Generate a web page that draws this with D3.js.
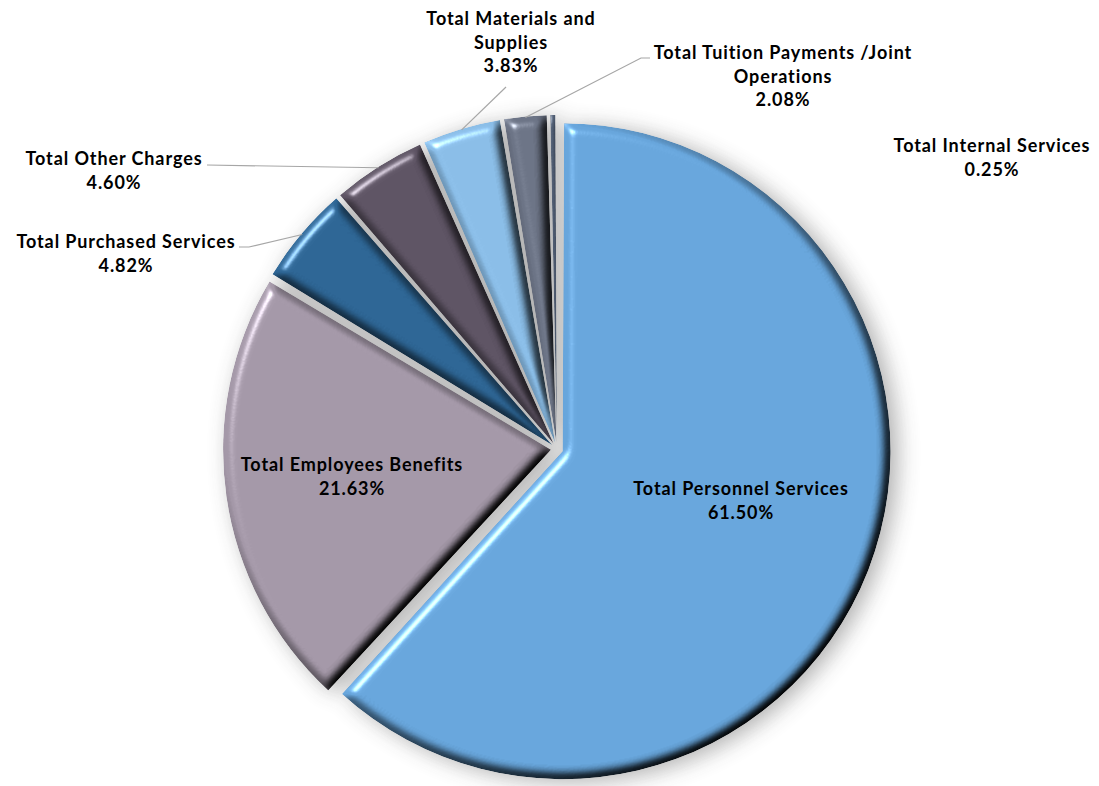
<!DOCTYPE html>
<html>
<head>
<meta charset="utf-8">
<script src="https://cdn.jsdelivr.net/npm/d3@7"></script>
<style>
  html, body { margin: 0; padding: 0; background: #ffffff; }
  svg { display: block; }
  text { font-family: Lato, "Open Sans", sans-serif; font-weight: 700; fill: #000; }
</style>
</head>
<body>
<svg id="chart" width="1099" height="786"></svg>
<script>
// ---- data -------------------------------------------------------------
const categories = [
  "Total Personnel Services",
  "Total Employees Benefits",
  "Total Purchased Services",
  "Total Other Charges",
  "Total Materials and Supplies",
  "Total Tuition Payments /Joint Operations",
  "Total Internal Services"
];
const shares = [61.50, 21.63, 4.82, 4.60, 3.83, 2.08, 0.25];
const sliceColors = ["#67a5db", "#a397a7", "#2d6594", "#5d5363", "#89bce6", "#6b7385", "#4b586d"];

// how each category name wraps in its label
const labelRows = [
  ["Total Personnel Services"],
  ["Total Employees Benefits"],
  ["Total Purchased Services"],
  ["Total Other Charges"],
  ["Total Materials and", "Supplies"],
  ["Total Tuition Payments /Joint", "Operations"],
  ["Total Internal Services"]
];

// ---- layout -----------------------------------------------------------
const W = 1099, H = 786;
const cx = 557, cy = 449, R = 328, explode = 6, gap = 3;
const lineH = 23.5;
// label block: centre x, first baseline, and leader anchor points next to the text
const labelPlace = [
  { x: 741, y: 495 },
  { x: 352, y: 471 },
  { x: 126, y: 248, leader: [[239, 247], [249, 247]] },
  { x: 114, y: 165, leader: [[207, 165]] },
  { x: 511, y: 25,  leader: [[506, 87]] },
  { x: 783, y: 59,  leader: [[650, 58], [641, 58]] },
  { x: 992, y: 152 }
];

const svg = d3.select("#chart");
const defs = svg.append("defs");

// soft drop shadow under the whole pie
const shadow = defs.append("filter").attr("id", "pieShadow")
  .attr("filterUnits", "userSpaceOnUse")
  .attr("x", -W).attr("y", -H).attr("width", 2 * W).attr("height", 2 * H);
shadow.append("feGaussianBlur").attr("stdDeviation", 11);

// rounded bevel on every slice: diffuse shading + specular highlight
const bevel = defs.append("filter").attr("id", "bevel")
  .attr("filterUnits", "userSpaceOnUse")
  .attr("x", -R - 60).attr("y", -R - 60).attr("width", 2 * R + 120).attr("height", 2 * R + 120)
  .attr("color-interpolation-filters", "sRGB");
bevel.append("feGaussianBlur").attr("in", "SourceAlpha").attr("stdDeviation", 5.5).attr("result", "blur");
const elev = 55;
bevel.append("feDiffuseLighting").attr("in", "blur").attr("surfaceScale", 9)
  .attr("diffuseConstant", 1 / Math.sin(elev * Math.PI / 180))
  .attr("lighting-color", "#ffffff").attr("result", "diff")
  .append("feDistantLight").attr("azimuth", 225).attr("elevation", elev);
bevel.append("feSpecularLighting").attr("in", "blur").attr("surfaceScale", 9)
  .attr("specularConstant", 0.9).attr("specularExponent", 30)
  .attr("lighting-color", "#ffffff").attr("result", "spec")
  .append("feDistantLight").attr("azimuth", 225).attr("elevation", 30);
bevel.append("feComposite").attr("in", "SourceGraphic").attr("in2", "diff")
  .attr("operator", "arithmetic").attr("k1", 1).attr("result", "lit");
bevel.append("feComposite").attr("in", "spec").attr("in2", "SourceAlpha")
  .attr("operator", "in").attr("result", "specIn");
bevel.append("feComposite").attr("in", "lit").attr("in2", "specIn")
  .attr("operator", "arithmetic").attr("k2", 1).attr("k3", 0.6).attr("result", "sum");
bevel.append("feComposite").attr("in", "sum").attr("in2", "SourceAlpha").attr("operator", "in");

// ---- pie --------------------------------------------------------------
const pie = d3.pie().sort(null).value(d => d).padAngle(gap / R);
const arcs = pie(shares);
const arc = d3.arc().innerRadius(0).outerRadius(R).padRadius(R);

const mid = d => (d.startAngle + d.endAngle) / 2;
const shift = d => [explode * Math.sin(mid(d)), -explode * Math.cos(mid(d))];

const g = svg.append("g").attr("transform", `translate(${cx},${cy})`);

// shadow layer
g.append("g")
  .attr("filter", "url(#pieShadow)")
  .attr("opacity", 0.4)
  .attr("transform", "translate(7,3)")
  .selectAll("path").data(arcs).join("path")
  .attr("d", arc)
  .attr("transform", d => `translate(${shift(d)})`)
  .attr("fill", "#3a3a3a");

// slices
g.append("g").selectAll("path").data(arcs).join("path")
  .attr("d", arc)
  .attr("transform", d => `translate(${shift(d)})`)
  .attr("fill", (d, i) => sliceColors[i])
  .attr("filter", "url(#bevel)");

// ---- leader lines -----------------------------------------------------
const rimPoint = d => {
  const [dx, dy] = shift(d);
  return [cx + dx + (R - 1) * Math.sin(mid(d)), cy + dy - (R - 1) * Math.cos(mid(d))];
};
const line = d3.line();
svg.append("g").selectAll("path")
  .data(arcs.filter((d, i) => labelPlace[i].leader))
  .join("path")
  .attr("d", d => line(labelPlace[d.index].leader.concat([rimPoint(d)])))
  .attr("fill", "none")
  .attr("stroke", "#a6a6a6")
  .attr("stroke-width", 1.2);

// ---- labels -----------------------------------------------------------
const pct = d3.format(".2f");
const labels = svg.append("g").selectAll("text").data(arcs).join("text")
  .attr("text-anchor", "middle")
  .attr("font-size", 18)
  .attr("letter-spacing", 0.9)
  .attr("x", d => labelPlace[d.index].x)
  .attr("y", d => labelPlace[d.index].y);
labels.each(function (d) {
  const rows = labelRows[d.index].concat([pct(shares[d.index]) + "%"]);
  d3.select(this).selectAll("tspan").data(rows).join("tspan")
    .attr("x", labelPlace[d.index].x)
    .attr("dy", (r, j) => j === 0 ? 0 : lineH)
    .text(r => r);
});
</script>
</body>
</html>
